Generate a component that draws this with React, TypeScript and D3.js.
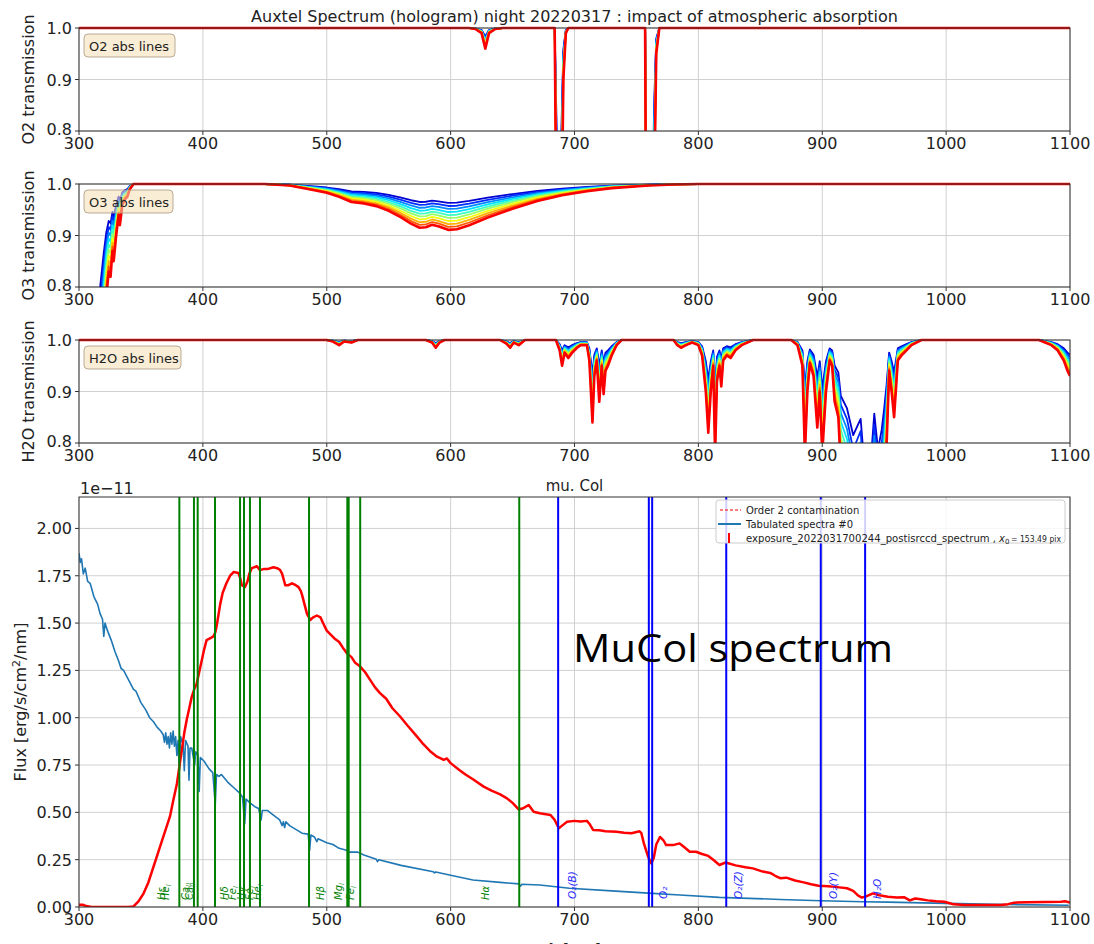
import React from "react";
import * as d3 from "d3";

// ---------------- DATA ----------------
const xTicks = [300, 400, 500, 600, 700, 800, 900, 1000, 1100];
const transTicks = [0.8, 0.9, 1.0];
const fluxTicks = [0, 0.25, 0.5, 0.75, 1.0, 1.25, 1.5, 1.75, 2.0];

// airmasses of the simulated transmissions (reference = highest airmass, red curve)
const airmasses = [1.0, 1.17, 1.33, 1.5, 1.67, 1.83, 2.0, 2.17, 2.33, 2.5];
const refAirmass = 2.5;

// O2 transmission at reference airmass
const o2Wl = [300, 615, 620, 625, 628, 631, 636, 642, 684, 685.5, 687, 689, 691, 693, 695, 757, 758, 760, 763, 764.5, 766, 768.5, 1100];
const o2Tr = [1, 1, 0.998, 0.99, 0.96, 0.99, 0.998, 1, 1, 0.6, 0.3, 0.5, 0.9, 0.99, 1, 1, 0.5, 0.3, 0.4, 0.7, 0.95, 1, 1];

// O3 transmission at reference airmass
const o3Wl = [300, 314, 317, 320, 322, 324, 325.5, 327, 328, 330, 332, 333, 335, 337, 339, 341, 344, 450, 470, 490, 500, 510, 520, 530, 540, 550, 560, 568, 575, 580, 585, 590, 598, 605, 615, 630, 650, 670, 690, 710, 730, 760, 780, 800, 1100];
const o3Tr = [0.1, 0.45, 0.57, 0.7, 0.78, 0.83, 0.82, 0.87, 0.85, 0.9, 0.94, 0.92, 0.96, 0.97, 0.975, 0.99, 1, 1, 0.997, 0.988, 0.983, 0.975, 0.965, 0.962, 0.957, 0.948, 0.935, 0.923, 0.915, 0.916, 0.921, 0.918, 0.911, 0.912, 0.92, 0.935, 0.952, 0.967, 0.978, 0.986, 0.992, 0.997, 0.999, 1, 1];

// H2O transmission at reference airmass
const h2oWl = [300, 500, 505, 510, 514, 520, 525, 580, 585, 588, 591, 595, 640, 645, 648, 651, 655, 660, 685, 688, 690, 692, 695, 698, 702, 705, 710, 712, 714.5, 716, 718, 720, 722, 723.5, 725, 727, 730, 734, 738, 780, 783, 786, 790, 795, 800, 803, 806, 808, 810, 812, 813.5, 815, 817, 818.5, 820, 823, 826, 830, 835, 844, 875, 880, 884, 886, 888, 890, 893, 896, 898, 900, 903, 906, 908, 910, 913, 915, 920, 925, 931, 935, 939, 942, 945, 948, 950, 952, 954, 956, 958, 961, 964, 968, 972, 980, 1075, 1080, 1085, 1090, 1095, 1098, 1100];
const h2oTr = [1, 1, 0.997, 0.99, 0.997, 0.995, 1, 1, 0.995, 0.985, 0.995, 1, 1, 0.993, 0.985, 0.995, 0.99, 1, 1, 0.98, 0.95, 0.975, 0.965, 0.975, 0.985, 0.99, 0.99, 0.96, 0.84, 0.93, 0.96, 0.88, 0.95, 0.895, 0.94, 0.95, 0.97, 0.99, 1, 1, 0.99, 0.985, 0.99, 0.995, 0.99, 0.97, 0.9, 0.82, 0.9, 0.95, 0.78, 0.92, 0.95, 0.91, 0.96, 0.97, 0.965, 0.98, 0.99, 1, 1, 0.99, 0.95, 0.78, 0.9, 0.955, 0.93, 0.83, 0.9, 0.78, 0.9, 0.96, 0.95, 0.88, 0.85, 0.75, 0.7, 0.6, 0.66, 0.45, 0.5, 0.68, 0.55, 0.62, 0.7, 0.8, 0.94, 0.9, 0.85, 0.96, 0.97, 0.98, 0.99, 1, 1, 0.995, 0.99, 0.98, 0.96, 0.94, 0.93];

// Measured spectrum (1e-11 erg/s/cm2/nm)
const specWl = [300, 303, 306, 310, 340, 344, 348, 352, 356, 360, 364, 368, 371, 373.5, 376, 379, 381, 383, 385, 387, 389, 391, 393, 395, 397, 399, 401, 403, 406, 408.5, 410, 411, 412.5, 414, 416, 419, 422, 425, 428.6, 430, 431.5, 434, 436, 437.5, 439.5, 443.6, 446, 449, 452, 457, 460, 462.4, 464, 466.5, 469, 472, 475, 477.2, 479, 480, 482, 484, 486.7, 489, 492, 495, 497, 500, 503, 506, 510, 513, 516.3, 520, 523, 527, 531, 535, 539, 543, 548, 553, 559.4, 565, 572.9, 578, 584, 589, 592, 594.4, 597, 600, 607, 612, 618, 626.7, 633, 640, 645.5, 650, 654.9, 658, 663, 667, 672, 680.6, 684, 687.3, 690, 694, 700, 705, 710, 712, 715, 720, 725, 734, 740, 746, 752.5, 754, 756, 759.4, 762, 764, 766, 769, 772, 774, 779.6, 784.8, 788, 793, 798, 803, 808, 812, 817, 822, 830, 838, 844, 852, 858, 862, 866, 871, 878, 885, 891, 897, 905, 912, 920, 925, 929, 932, 935, 941, 946, 953, 960, 966, 970.7, 975, 979.6, 985, 992, 998.4, 1003, 1006, 1015, 1028, 1044, 1050, 1054.8, 1065, 1080, 1092.7, 1096, 1100];
const specFlux = [0.012, 0.012, 0.005, 0.0, 0.0, 0.003, 0.03, 0.07, 0.13, 0.21, 0.29, 0.37, 0.43, 0.48, 0.56, 0.65, 0.74, 0.83, 0.92, 0.99, 1.05, 1.11, 1.15, 1.18, 1.24, 1.3, 1.36, 1.41, 1.42, 1.43, 1.45, 1.48, 1.54, 1.6, 1.66, 1.71, 1.75, 1.77, 1.765, 1.74, 1.7, 1.69, 1.72, 1.76, 1.79, 1.8, 1.78, 1.785, 1.785, 1.795, 1.79, 1.78, 1.76, 1.7, 1.7, 1.71, 1.7, 1.69, 1.67, 1.65, 1.6, 1.55, 1.516, 1.53, 1.54, 1.53, 1.5, 1.46, 1.44, 1.42, 1.4, 1.37, 1.34, 1.32, 1.29, 1.27, 1.24, 1.2, 1.16, 1.13, 1.1, 1.05, 1.005, 0.96, 0.9, 0.86, 0.82, 0.794, 0.785, 0.777, 0.785, 0.76, 0.724, 0.7, 0.675, 0.636, 0.615, 0.595, 0.574, 0.55, 0.516, 0.52, 0.539, 0.503, 0.495, 0.486, 0.46, 0.416, 0.43, 0.45, 0.455, 0.452, 0.455, 0.44, 0.407, 0.405, 0.4, 0.398, 0.392, 0.39, 0.4, 0.39, 0.336, 0.266, 0.23, 0.26, 0.33, 0.37, 0.35, 0.327, 0.327, 0.336, 0.32, 0.292, 0.292, 0.28, 0.27, 0.25, 0.222, 0.235, 0.22, 0.21, 0.204, 0.187, 0.18, 0.165, 0.152, 0.155, 0.14, 0.13, 0.12, 0.112, 0.11, 0.105, 0.099, 0.085, 0.06, 0.05, 0.055, 0.072, 0.062, 0.054, 0.05, 0.052, 0.035, 0.045, 0.041, 0.035, 0.03, 0.028, 0.02, 0.014, 0.01, 0.01, 0.01, 0.015, 0.023, 0.025, 0.026, 0.028, 0.03, 0.024];

// Tabulated spectrum (1e-11 erg/s/cm2/nm)
const tabWl = [300, 301, 302, 303.5, 305, 307, 309, 312, 315, 317, 319, 320, 321, 323, 326, 329, 332, 334, 336, 340, 344, 346, 350, 354, 357, 360, 363, 366, 368, 369, 370, 371, 372, 373, 374, 375, 376, 377, 378, 379, 380, 381, 382, 384, 385, 386, 388, 388.8, 389.6, 391, 393.4, 394.2, 396, 397, 398, 401, 405, 408, 410, 411, 413, 415, 420, 425, 430, 432, 433.8, 434.8, 438, 442, 445, 447, 448, 452, 458, 462, 464, 465, 466, 467, 470, 475, 480, 485, 486.2, 487.2, 490, 492, 493, 500, 505, 510, 516, 518, 525, 530, 540, 541, 542, 560, 586, 587, 588, 600, 618, 640, 655, 656.3, 657.5, 672, 696, 730, 763, 785, 817, 866, 899, 933, 953, 1000, 1050, 1099];
const tabFlux = [1.87, 1.82, 1.84, 1.76, 1.79, 1.72, 1.71, 1.64, 1.6, 1.55, 1.52, 1.43, 1.5, 1.46, 1.41, 1.35, 1.3, 1.26, 1.25, 1.2, 1.15, 1.14, 1.08, 1.04, 1.0, 0.98, 0.95, 0.93, 0.91, 0.87, 0.92, 0.86, 0.9, 0.84, 0.92, 0.86, 0.93, 0.85, 0.9, 0.8, 0.88, 0.72, 0.9, 0.86, 0.72, 0.88, 0.85, 0.67, 0.84, 0.84, 0.75, 0.82, 0.8, 0.61, 0.79, 0.77, 0.73, 0.71, 0.54, 0.7, 0.69, 0.7, 0.66, 0.63, 0.6, 0.58, 0.44, 0.57, 0.55, 0.53, 0.52, 0.46, 0.51, 0.51, 0.48, 0.46, 0.43, 0.45, 0.42, 0.45, 0.43, 0.41, 0.39, 0.385, 0.3, 0.38, 0.37, 0.345, 0.36, 0.34, 0.33, 0.31, 0.3, 0.29, 0.29, 0.275, 0.252, 0.24, 0.25, 0.22, 0.186, 0.18, 0.185, 0.168, 0.143, 0.13, 0.122, 0.11, 0.12, 0.116, 0.099, 0.085, 0.072, 0.063, 0.051, 0.04, 0.033, 0.028, 0.026, 0.019, 0.013, 0.009];

// Line markers
const starLinesNm = [381.0, 392.8, 395.8, 409.8, 430.0, 433.2, 438.0, 446.1, 485.7, 516.6, 517.7, 527.0, 655.4];
const atmLinesNm = [686.8, 760.0, 762.7, 822.5, 898.8, 934.6];
const starLabelText = ["Hε", "He", "Ca", "Ca", "Hδ", "Fe", "Hγ", "Fe", "He", "Hβ", "Mg", "Fe", "Hα"];
const starLabelSub = ["", "I", "II", "II", "", "I", "", "I", "I", "", "I", "I", ""];
const starLabelNm = [366.4, 369.8, 385.8, 389.0, 417.3, 423.7, 431.0, 437.4, 443.9, 494.7, 509.3, 519.0, 628.0];
const atmLabelText = ["O₂(B)", "O₂", "O₂(Z)", "O₂(Y)", "H₂O"];
const atmLabelNm = [697.9, 771.6, 832.1, 908.8, 944.0];

// ---------------- LAYOUT ----------------
const FONT = "'DejaVu Sans', sans-serif";
const XL = 79, XR = 1070;
const x = d3.scaleLinear().domain([300, 1100]).range([XL, XR]);

const jet = (t: number) => {
  const c = (v: number) => Math.max(0, Math.min(1, v)) * 255;
  return d3.rgb(c(1.5 - Math.abs(4 * t - 3)), c(1.5 - Math.abs(4 * t - 2)), c(1.5 - Math.abs(4 * t - 1))).formatHex();
};

function XAxis({ bottom, fs }: { bottom: number; fs: number }) {
  return (
    <g>
      {xTicks.map((t) => (
        <g key={t}>
          <line x1={x(t)} x2={x(t)} y1={bottom} y2={bottom + 4} stroke="#333" strokeWidth={1} />
          <text x={x(t)} y={bottom + 6 + fs * 0.76} fontSize={fs} textAnchor="middle" fill="#222">{t}</text>
        </g>
      ))}
    </g>
  );
}

function TransPanel({ wl, tr, top, bottom, ylabel, box, id }: any) {
  const y = d3.scaleLinear().domain([0.8, 1.0]).range([bottom, top]);
  const line = d3.line<number>().x((_, i) => x(wl[i])).y((d) => y(d));
  const n = airmasses.length;
  return (
    <g>
      <defs>
        <clipPath id={id}>
          <rect x={XL} y={top - 2} width={XR - XL} height={bottom - top + 2} />
        </clipPath>
      </defs>
      {xTicks.map((t) => (
        <line key={t} x1={x(t)} x2={x(t)} y1={top} y2={bottom} stroke="#d0d0d0" strokeWidth={1} />
      ))}
      {transTicks.map((t) => (
        <line key={t} x1={XL} x2={XR} y1={y(t)} y2={y(t)} stroke="#d0d0d0" strokeWidth={1} />
      ))}
      <g clipPath={`url(#${id})`}>
        {airmasses.map((am, k) => (
          <path
            key={k}
            d={line(tr.map((v: number) => Math.pow(v, am / refAirmass))) || ""}
            fill="none"
            stroke={jet(0.08 + (0.8 * k) / (n - 1))}
            strokeWidth={k === n - 1 ? 2.6 : 1.8}
            strokeLinejoin="round"
          />
        ))}
      </g>
      <rect x={XL} y={top} width={XR - XL} height={bottom - top} fill="none" stroke="#333" strokeWidth={1} />
      {transTicks.map((t) => (
        <g key={t}>
          <line x1={XL - 4} x2={XL} y1={y(t)} y2={y(t)} stroke="#333" />
          <text x={XL - 7} y={y(t) + (t === 0.8 ? 4 : 6)} fontSize={16} textAnchor="end" fill="#222">{t.toFixed(1)}</text>
        </g>
      ))}
      <XAxis bottom={bottom} fs={16} />
      <text transform={`translate(34,${(top + bottom) / 2}) rotate(-90)`} fontSize={16} textAnchor="middle" fill="#222">{ylabel}</text>
      <rect x={84} y={top + 6} width={box.w} height={23} rx={4} fill="#f5deb3" fillOpacity={0.55} stroke="#a89880" strokeOpacity={0.8} />
      <text x={89} y={top + 22.5} fontSize={13} fill="#222">{box.text}</text>
    </g>
  );
}

function SpecPanel() {
  const top = 497, bottom = 907;
  const y = d3.scaleLinear().domain([0, 2.166]).range([bottom, top]);
  const specLine = d3.line<number>().x((_, i) => x(specWl[i])).y((d) => y(d));
  const tabLine = d3.line<number>().x((_, i) => x(tabWl[i])).y((d) => y(d));
  return (
    <g>
      <defs>
        <clipPath id="clipSpec">
          <rect x={XL} y={top} width={XR - XL} height={bottom - top} />
        </clipPath>
      </defs>
      {xTicks.map((t) => (
        <line key={t} x1={x(t)} x2={x(t)} y1={top} y2={bottom} stroke="#d0d0d0" strokeWidth={1} />
      ))}
      {fluxTicks.map((t) => (
        <line key={t} x1={XL} x2={XR} y1={y(t)} y2={y(t)} stroke="#d0d0d0" strokeWidth={1} />
      ))}
      <g clipPath="url(#clipSpec)">
        <path d={tabLine(tabFlux) || ""} fill="none" stroke="#1f77b4" strokeWidth={1.6} strokeLinejoin="round" />
        <path d={specLine(specFlux) || ""} fill="none" stroke="#ff0000" strokeWidth={2.5} strokeLinejoin="round" />
        {starLinesNm.map((nm, i) => (
          <line key={i} x1={x(nm)} x2={x(nm)} y1={top} y2={bottom} stroke="#008000" strokeWidth={2} />
        ))}
        {atmLinesNm.map((nm, i) => (
          <line key={i} x1={x(nm)} x2={x(nm)} y1={top} y2={bottom} stroke="#0000ff" strokeWidth={2} />
        ))}
      </g>
      {starLabelText.map((s, i) => (
        <text key={i} transform={`translate(${x(starLabelNm[i]) + 4},${bottom - 7}) rotate(-90)`} fontSize={10} fill="#008000" fontStyle="italic">
          {s}
          {starLabelSub[i] ? <tspan fontSize={7} dy={2}>{starLabelSub[i]}</tspan> : null}
        </text>
      ))}
      {atmLabelText.map((s, i) => (
        <text key={i} transform={`translate(${x(atmLabelNm[i]) + 4},${bottom - 8}) rotate(-90)`} fontSize={10.5} fill="#2a2aff" fontStyle="italic">
          {s}
        </text>
      ))}
      <rect x={XL} y={top} width={XR - XL} height={bottom - top} fill="none" stroke="#333" strokeWidth={1} />
      {fluxTicks.map((t) => (
        <g key={t}>
          <line x1={XL - 4} x2={XL} y1={y(t)} y2={y(t)} stroke="#333" />
          <text x={XL - 7} y={y(t) + 6} fontSize={16} textAnchor="end" fill="#222">{t.toFixed(2)}</text>
        </g>
      ))}
      <XAxis bottom={bottom} fs={16} />
      <text x={80} y={494} fontSize={16} fill="#222">1e−11</text>
      <text x={(XL + XR) / 2} y={491} fontSize={15} textAnchor="middle" fill="#222">mu. Col</text>
      <text x={(XL + XR) / 2} y={955} fontSize={16} textAnchor="middle" fill="#222">λ [nm]</text>
      <text transform={`translate(26,${(top + bottom) / 2}) rotate(-90)`} fontSize={16} textAnchor="middle" fill="#222">
        Flux [erg/s/cm<tspan fontSize={11} dy={-6}>2</tspan><tspan dy={6}>/nm]</tspan>
      </text>
      {/* legend */}
      <g>
        <rect x={716} y={500} width={349} height={43} rx={3} fill="#fff" fillOpacity={0.82} stroke="#cccccc" />
        <line x1={720} x2={741} y1={510} y2={510} stroke="#ff0000" strokeDasharray="3,2" strokeWidth={1} />
        <text x={746} y={513.5} fontSize={10} fill="#222">Order 2 contamination</text>
        <line x1={718} x2={741} y1={524} y2={524} stroke="#1f77b4" strokeWidth={2} />
        <text x={746} y={527.5} fontSize={10} fill="#222">Tabulated spectra #0</text>
        <line x1={729} x2={729} y1={533} y2={543} stroke="#ff0000" strokeWidth={2} />
        <text x={746} y={541.5} fontSize={10} fill="#222" textLength={250} lengthAdjust="spacingAndGlyphs">exposure_2022031700244_postisrccd_spectrum ,</text>
        <text x={999} y={541.5} fontSize={10} fill="#222" fontStyle="italic">x</text>
        <text x={1005} y={543.5} fontSize={7} fill="#222">0</text>
        <text x={1011} y={541.5} fontSize={9.5} fill="#222" textLength={50} lengthAdjust="spacingAndGlyphs">= 153.49 pix</text>
      </g>
      <text x={573} y={662} fontSize={38} fontFamily="'Open Sans', sans-serif" fill="#000" textLength={320} lengthAdjust="spacingAndGlyphs">MuCol spectrum</text>
    </g>
  );
}

export default function App() {
  return (
    <svg width={1094} height={944} style={{ position: "fixed", left: 0, top: 0, background: "#fff" }} fontFamily={FONT}>
      <rect x={0} y={0} width={1094} height={944} fill="#fff" />
      <text x={(XL + XR) / 2} y={22} fontSize={16} textAnchor="middle" fill="#222">
        Auxtel Spectrum (hologram) night 20220317 : impact of atmospheric absorption
      </text>
      <TransPanel wl={o2Wl} tr={o2Tr} top={28} bottom={131} ylabel="O2 transmission" box={{ text: "O2 abs lines", w: 91 }} id="clipO2" />
      <TransPanel wl={o3Wl} tr={o3Tr} top={184} bottom={287} ylabel="O3 transmission" box={{ text: "O3 abs lines", w: 89 }} id="clipO3" />
      <TransPanel wl={h2oWl} tr={h2oTr} top={340} bottom={443} ylabel="H2O transmission" box={{ text: "H2O abs lines", w: 97 }} id="clipH2O" />
      <SpecPanel />
    </svg>
  );
}
